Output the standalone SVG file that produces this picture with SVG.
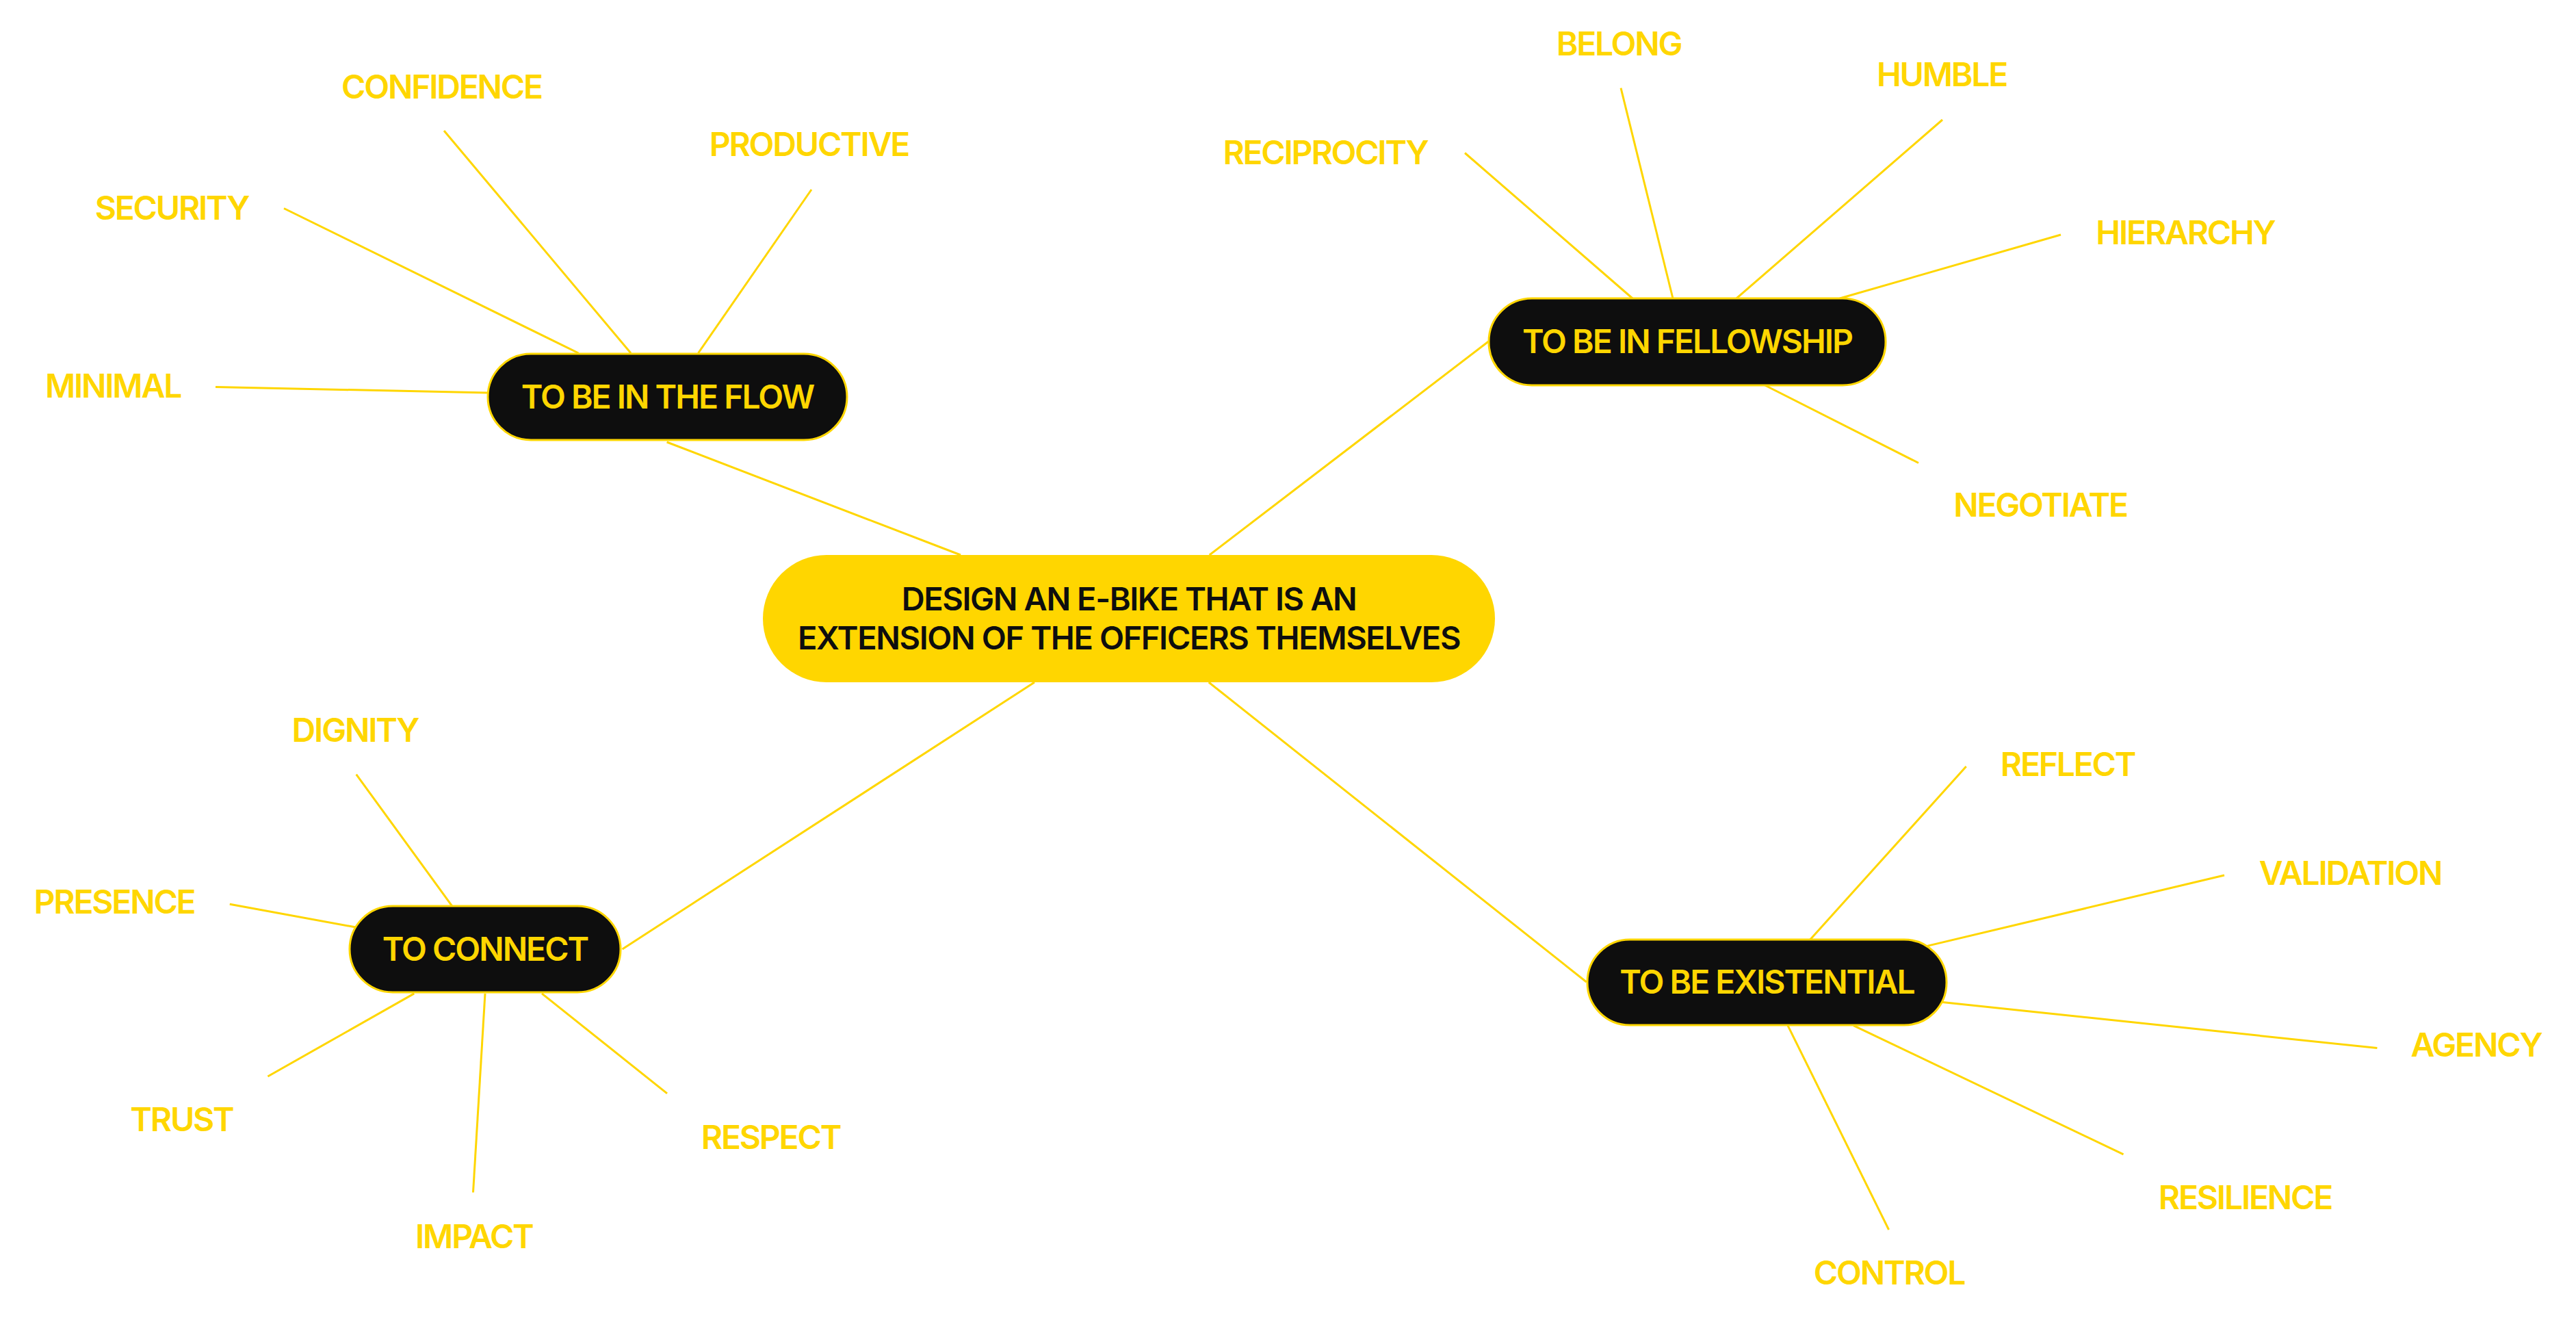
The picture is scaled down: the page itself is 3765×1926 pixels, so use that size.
<svg xmlns="http://www.w3.org/2000/svg" width="3765" height="1926" viewBox="0 0 3765 1926">
<style>
.c{stroke:#FFD600;stroke-width:3;fill:none;stroke-linecap:butt}
.leaf{font-family:Inter,"Noto Sans","Liberation Sans",sans-serif;font-size:48px;font-weight:600;letter-spacing:-2.2px;fill:#FFD600;text-anchor:middle}
.sub rect{fill:#0E0E0E;stroke:#FFD600;stroke-width:3}
.sub text{font-family:Inter,"Noto Sans","Liberation Sans",sans-serif;font-size:48px;font-weight:600;letter-spacing:-2px;fill:#FFD600;text-anchor:middle}
.main rect{fill:#FFD600}
.main text{font-family:Inter,"Noto Sans","Liberation Sans",sans-serif;font-size:47px;font-weight:600;letter-spacing:-1.4px;fill:#0E0E0E;text-anchor:middle}
</style>
<rect width="3765" height="1926" fill="#FFFFFF"/>
<g id="connectors">
<line class="c" x1="974.6" y1="646" x2="1404" y2="811"/>
<line class="c" x1="1767.7" y1="811" x2="2175.5" y2="499"/>
<line class="c" x1="1512" y1="997" x2="909.6" y2="1386.9"/>
<line class="c" x1="1766.7" y1="997" x2="2318.7" y2="1435"/>
<line class="c" x1="649" y1="191" x2="922" y2="516"/>
<line class="c" x1="1186" y1="277" x2="1020.5" y2="516"/>
<line class="c" x1="415" y1="304.5" x2="845.5" y2="516"/>
<line class="c" x1="315" y1="565.5" x2="714" y2="574"/>
<line class="c" x1="2369" y1="128.6" x2="2445" y2="436"/>
<line class="c" x1="2839" y1="175" x2="2538" y2="436"/>
<line class="c" x1="2141" y1="223.5" x2="2386" y2="436"/>
<line class="c" x1="3012" y1="343" x2="2689" y2="436"/>
<line class="c" x1="2804" y1="676.5" x2="2579.6" y2="563"/>
<line class="c" x1="2873.7" y1="1120" x2="2645.7" y2="1373"/>
<line class="c" x1="3251" y1="1279" x2="2816.7" y2="1382.4"/>
<line class="c" x1="3474.4" y1="1531.6" x2="2839" y2="1464.5"/>
<line class="c" x1="3103.5" y1="1686.9" x2="2709" y2="1498.6"/>
<line class="c" x1="2760.6" y1="1797" x2="2613" y2="1498.6"/>
<line class="c" x1="520.7" y1="1131.7" x2="661" y2="1324.3"/>
<line class="c" x1="335.8" y1="1321.3" x2="520" y2="1355"/>
<line class="c" x1="391.4" y1="1573" x2="605.3" y2="1451.9"/>
<line class="c" x1="691.5" y1="1742.5" x2="709" y2="1451.9"/>
<line class="c" x1="975" y1="1597.8" x2="792" y2="1451.9"/>
</g>
<g id="center" class="main">
<rect x="1115" y="811" width="1070" height="186" rx="93"/>
<text x="1650" y="892">DESIGN AN E-BIKE THAT IS AN</text>
<text x="1650" y="949">EXTENSION OF THE OFFICERS THEMSELVES</text>
</g>
<g id="flow" class="sub">
<rect x="713" y="517" width="525" height="126" rx="63"/>
<text x="975.5" y="596.7">TO BE IN THE FLOW</text>
</g>
<g id="fellowship" class="sub">
<rect x="2176" y="436" width="580" height="127" rx="63"/>
<text x="2466" y="516">TO BE IN FELLOWSHIP</text>
</g>
<g id="connect" class="sub">
<rect x="511" y="1324" width="396" height="126" rx="63"/>
<text x="709" y="1404">TO CONNECT</text>
</g>
<g id="existential" class="sub">
<rect x="2320" y="1373" width="525" height="125" rx="62"/>
<text x="2582.5" y="1451.7">TO BE EXISTENTIAL</text>
</g>
<g id="leaf-confidence"><text class="leaf" x="645.5" y="143.5">CONFIDENCE</text></g>
<g id="leaf-productive"><text class="leaf" x="1182.5" y="228">PRODUCTIVE</text></g>
<g id="leaf-security"><text class="leaf" x="251" y="321">SECURITY</text></g>
<g id="leaf-minimal"><text class="leaf" x="165" y="581">MINIMAL</text></g>
<g id="leaf-belong"><text class="leaf" x="2366" y="80.6">BELONG</text></g>
<g id="leaf-humble"><text class="leaf" x="2838" y="125.5">HUMBLE</text></g>
<g id="leaf-reciprocity"><text class="leaf" x="1937" y="240">RECIPROCITY</text></g>
<g id="leaf-hierarchy"><text class="leaf" x="3194" y="357">HIERARCHY</text></g>
<g id="leaf-negotiate"><text class="leaf" x="2982" y="755">NEGOTIATE</text></g>
<g id="leaf-reflect"><text class="leaf" x="3022" y="1134">REFLECT</text></g>
<g id="leaf-validation"><text class="leaf" x="3435" y="1293">VALIDATION</text></g>
<g id="leaf-agency"><text class="leaf" x="3619" y="1544.4">AGENCY</text></g>
<g id="leaf-resilience"><text class="leaf" x="3281.5" y="1766.8">RESILIENCE</text></g>
<g id="leaf-control"><text class="leaf" x="2761" y="1876.8">CONTROL</text></g>
<g id="leaf-dignity"><text class="leaf" x="519" y="1084">DIGNITY</text></g>
<g id="leaf-presence"><text class="leaf" x="167" y="1335">PRESENCE</text></g>
<g id="leaf-trust"><text class="leaf" x="265.4" y="1652.7">TRUST</text></g>
<g id="leaf-impact"><text class="leaf" x="692.8" y="1824">IMPACT</text></g>
<g id="leaf-respect"><text class="leaf" x="1126.5" y="1679.3">RESPECT</text></g>
</svg>
